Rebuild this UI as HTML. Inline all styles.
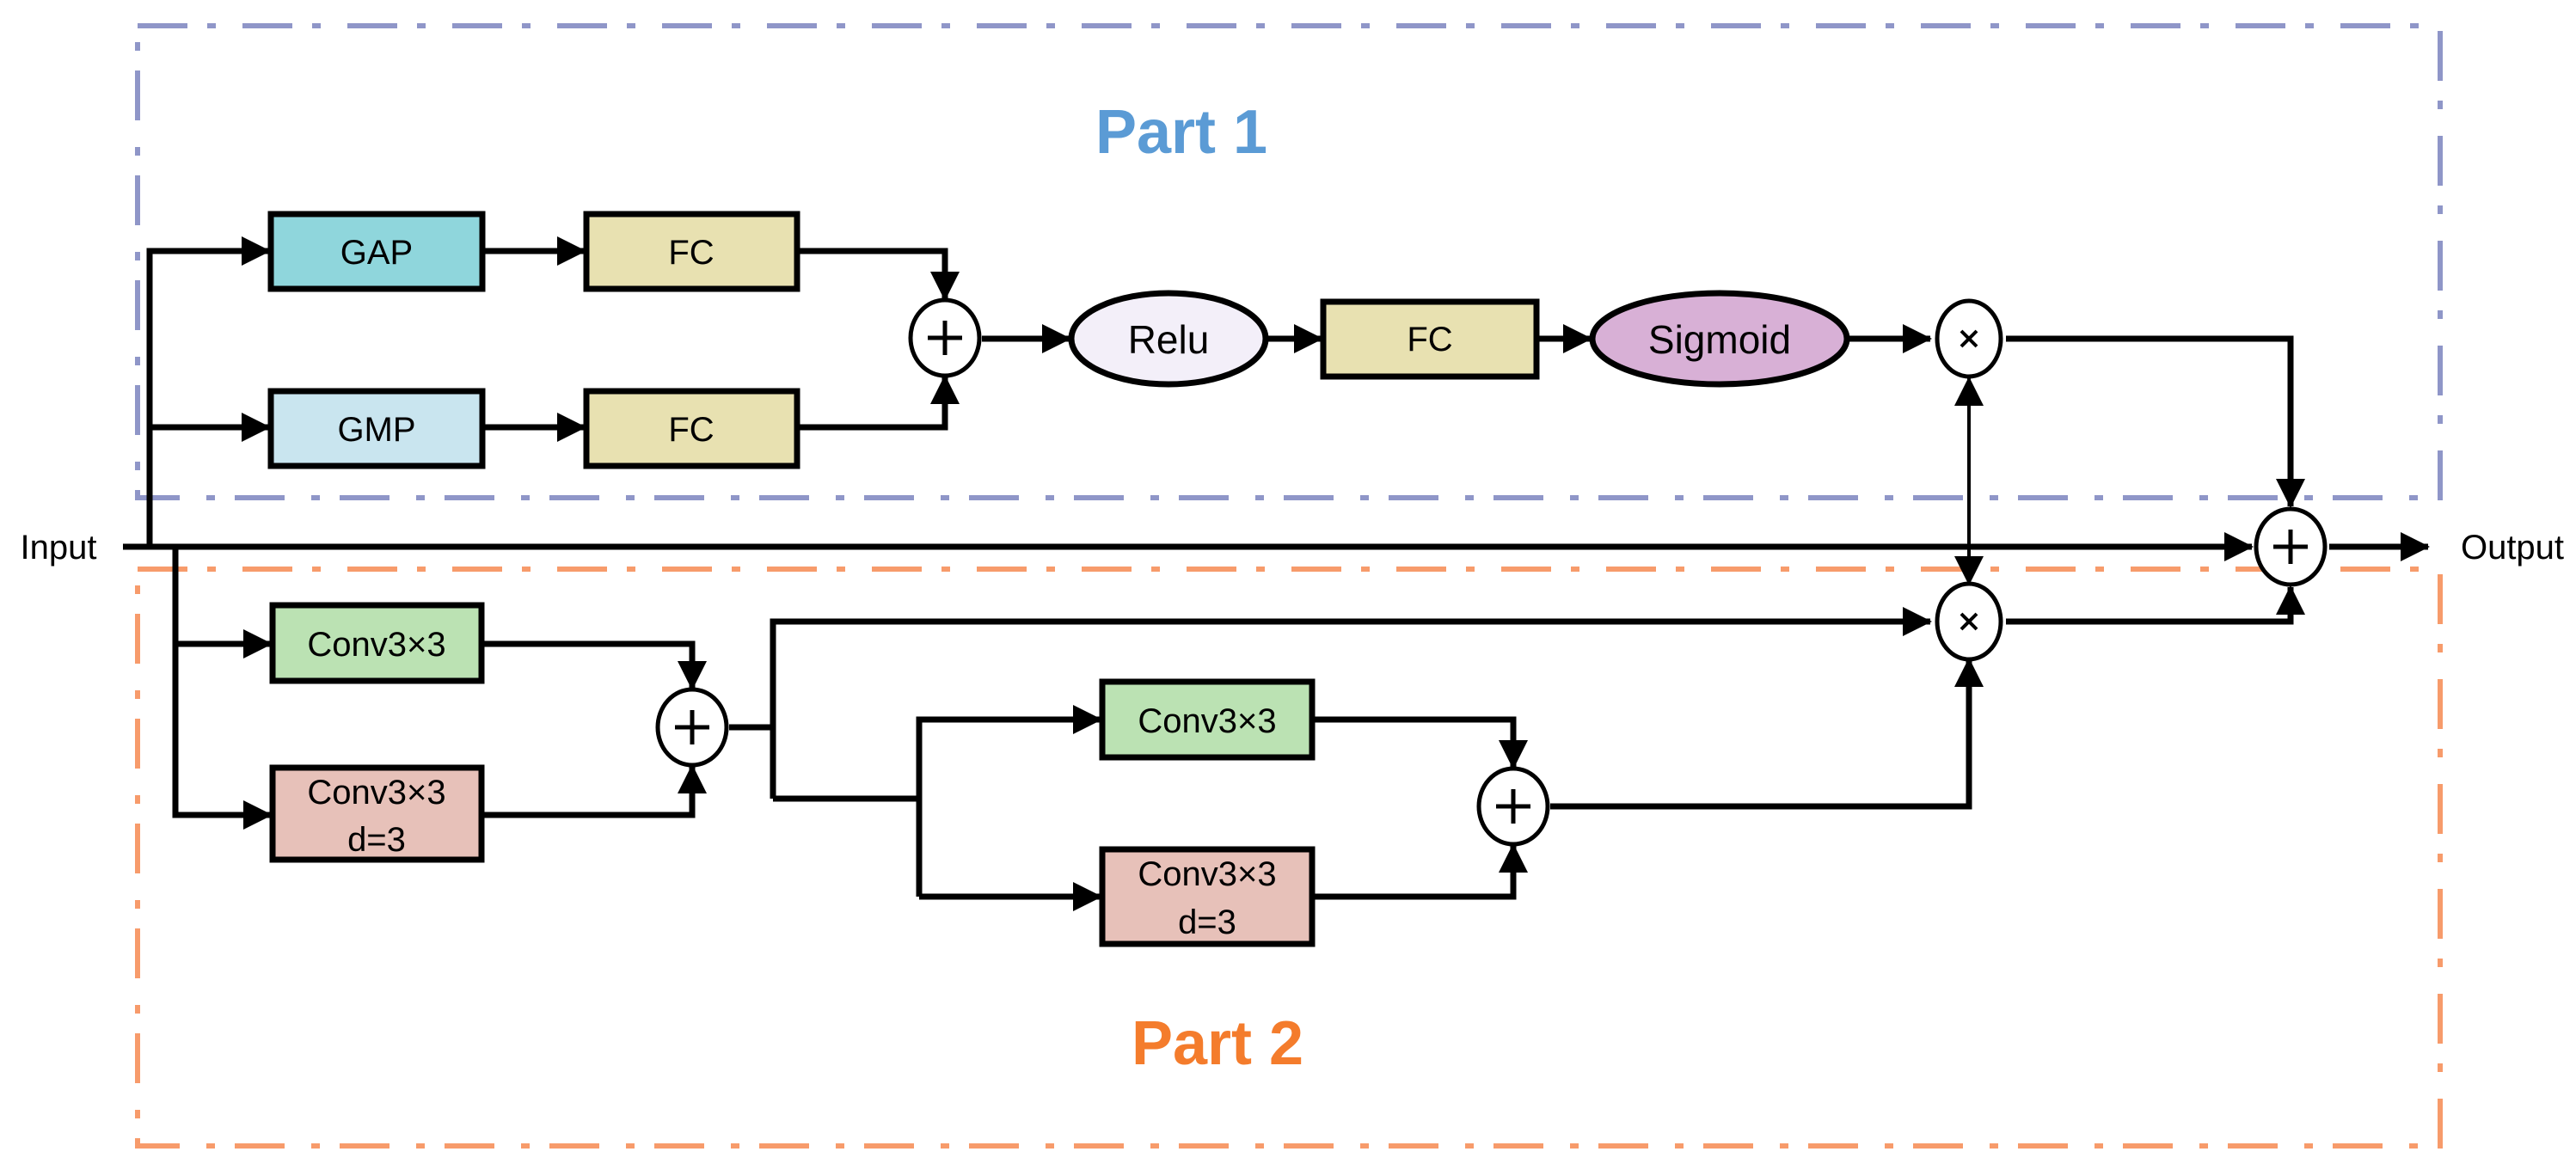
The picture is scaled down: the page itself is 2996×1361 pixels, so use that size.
<!DOCTYPE html>
<html><head><meta charset="utf-8"><style>
html,body{margin:0;padding:0;background:#fff;}
svg{display:block;}
text{font-family:"Liberation Sans",sans-serif;}
</style></head><body>
<svg width="2996" height="1361" viewBox="0 0 2996 1361" xmlns="http://www.w3.org/2000/svg">
<defs>
<marker id="a" markerUnits="userSpaceOnUse" markerWidth="34" markerHeight="34" refX="32" refY="17" orient="auto">
<path d="M0,0 L34,17 L0,34 Z" fill="#000"/></marker>
</defs>
<rect x="160" y="30" width="2678" height="549" fill="none" stroke="#8F96C8" stroke-width="6" stroke-dasharray="58 23 10 31"/>
<rect x="160" y="662" width="2678" height="671" fill="none" stroke="#F79B6B" stroke-width="6" stroke-dasharray="58 23 10 31"/>
<text x="1374" y="178" font-size="72" font-weight="bold" fill="#5B9BD5" text-anchor="middle">Part 1</text>
<text x="1416" y="1238" font-size="72" font-weight="bold" fill="#F47C2C" text-anchor="middle">Part 2</text>

<g stroke="#000" stroke-width="7" fill="none">
<line x1="143" y1="636" x2="2619" y2="636" marker-end="url(#a)"/>
<polyline points="174,636 174,292 313,292" marker-end="url(#a)"/>
<line x1="174" y1="497" x2="313" y2="497" marker-end="url(#a)"/>
<line x1="561" y1="292" x2="680" y2="292" marker-end="url(#a)"/>
<line x1="561" y1="497" x2="680" y2="497" marker-end="url(#a)"/>
<polyline points="927,292 1099,292 1099,348" marker-end="url(#a)"/>
<polyline points="927,497 1099,497 1099,438" marker-end="url(#a)"/>
<line x1="1142" y1="394" x2="1244" y2="394" marker-end="url(#a)"/>
<line x1="1472" y1="394" x2="1537" y2="394" marker-end="url(#a)"/>
<line x1="1787" y1="394" x2="1850" y2="394" marker-end="url(#a)"/>
<line x1="2149" y1="394" x2="2245" y2="394" marker-end="url(#a)"/>
<polyline points="2333,394 2664,394 2664,589" marker-end="url(#a)"/>
<line x1="2709" y1="636" x2="2824" y2="636" marker-end="url(#a)"/>
<polyline points="204,636 204,948 315,948" marker-end="url(#a)"/>
<line x1="204" y1="749" x2="315" y2="749" marker-end="url(#a)"/>
<polyline points="560,749 805,749 805,801" marker-end="url(#a)"/>
<polyline points="560,948 805,948 805,891" marker-end="url(#a)"/>
<polyline points="848,846 899,846"/>
<polyline points="899,929 899,723 2245,723" marker-end="url(#a)"/>
<polyline points="899,929 1069,929"/>
<polyline points="1069,1043 1069,837 1280,837" marker-end="url(#a)"/>
<line x1="1069" y1="1043" x2="1280" y2="1043" marker-end="url(#a)"/>
<polyline points="1526,837 1760,837 1760,893" marker-end="url(#a)"/>
<polyline points="1526,1043 1760,1043 1760,983" marker-end="url(#a)"/>
<polyline points="1803,938 2290,938 2290,767" marker-end="url(#a)"/>
<polyline points="2333,723 2664,723 2664,683" marker-end="url(#a)"/>
</g>
<g stroke="#000" stroke-width="4" fill="none">
<line x1="2290" y1="520" x2="2290" y2="600"/>
<line x1="2290" y1="600" x2="2290" y2="440" marker-end="url(#a)"/>
<line x1="2290" y1="600" x2="2290" y2="679" marker-end="url(#a)"/>
</g>

<g stroke="#000" stroke-width="7">
<rect x="315" y="249" width="246" height="87" fill="#8FD6DC"/>
<rect x="682" y="249" width="245" height="87" fill="#E8E1B1"/>
<rect x="315" y="455" width="246" height="87" fill="#C9E5EF"/>
<rect x="682" y="455" width="245" height="87" fill="#E8E1B1"/>
<rect x="1539" y="351" width="248" height="87" fill="#E8E1B1"/>
<ellipse cx="1359" cy="394" rx="113" ry="53" fill="#F3EFF9"/>
<ellipse cx="2000" cy="394" rx="148" ry="53" fill="#D8B0D6"/>
<rect x="317" y="704" width="243" height="88" fill="#BBE2B3"/>
<rect x="317" y="893" width="243" height="107" fill="#E7C1B9"/>
<rect x="1282" y="793" width="244" height="88" fill="#BBE2B3"/>
<rect x="1282" y="988" width="244" height="110" fill="#E7C1B9"/>
</g>
<g stroke="#000" stroke-width="5" fill="#fff">
<ellipse cx="1099" cy="393" rx="40" ry="44"/>
<ellipse cx="2290" cy="394" rx="37" ry="44"/>
<ellipse cx="2664" cy="636" rx="40" ry="44"/>
<ellipse cx="2290" cy="723" rx="37" ry="44"/>
<ellipse cx="805" cy="846" rx="40" ry="44"/>
<ellipse cx="1760" cy="938" rx="40" ry="44"/>
</g>
<g stroke="#000" stroke-width="5">
<path d="M1079,393h40M1099,373v40"/>
<path d="M2644,636h40M2664,616v40"/>
<path d="M785,846h40M805,826v40"/>
<path d="M1740,938h40M1760,918v40"/>
<path d="M2281,385l18,18M2299,385l-18,18" stroke-width="4"/>
<path d="M2281,714l18,18M2299,714l-18,18" stroke-width="4"/>
</g>
<g font-size="40" text-anchor="middle" fill="#000">
<text x="438" y="307">GAP</text>
<text x="804" y="307">FC</text>
<text x="438" y="513">GMP</text>
<text x="804" y="513">FC</text>
<text x="1663" y="408">FC</text>
<text x="1359" y="411" font-size="46">Relu</text>
<text x="2000" y="411" font-size="46">Sigmoid</text>
<text x="438" y="763">Conv3×3</text>
<text x="438" y="935">Conv3×3</text>
<text x="438" y="990">d=3</text>
<text x="1404" y="852">Conv3×3</text>
<text x="1404" y="1030">Conv3×3</text>
<text x="1404" y="1086">d=3</text>
<text x="68" y="650" font-size="40">Input</text>
<text x="2922" y="650" font-size="40">Output</text>
</g>
</svg>
</body></html>
